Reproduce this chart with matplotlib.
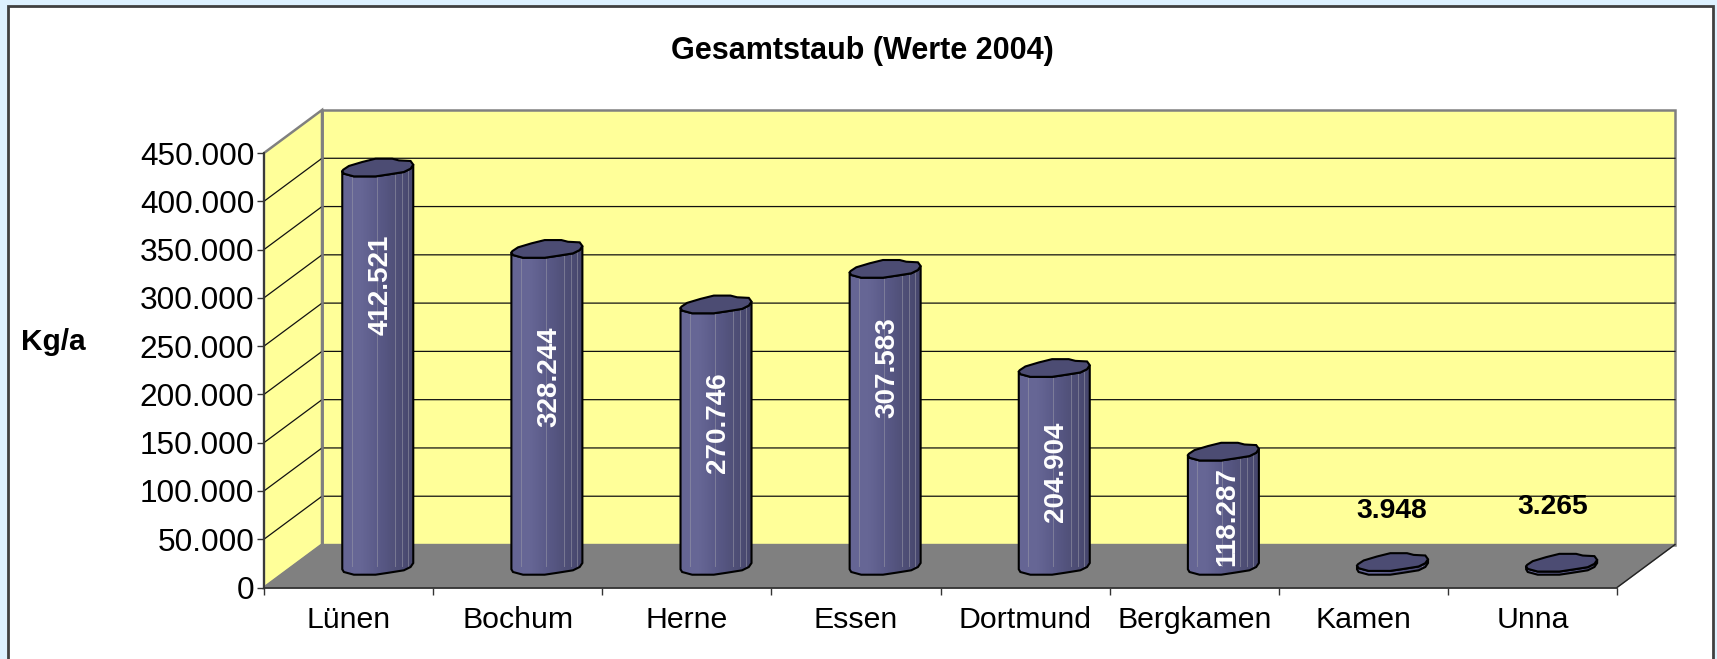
import numpy as np
import matplotlib
matplotlib.use("Agg")
import matplotlib.pyplot as plt
from matplotlib.patches import Polygon, Rectangle
from matplotlib.colors import LinearSegmentedColormap
from matplotlib.ticker import FuncFormatter

plt.rcParams['font.family'] = ['Liberation Sans', 'DejaVu Sans']

# ---- data ----
cities = ["Lünen", "Bochum", "Herne", "Essen", "Dortmund", "Bergkamen", "Kamen", "Unna"]
values = [412521, 328244, 270746, 307583, 204904, 118287, 3948, 3265]
value_labels = ["412.521", "328.244", "270.746", "307.583", "204.904", "118.287", "3.948", "3.265"]
y_ticks = [0, 50000, 100000, 150000, 200000, 250000, 300000, 350000, 400000, 450000]

# ---- layout (not data) ----
W, H = 1717, 659
FRONT_L, FRONT_R, FRONT_T, FRONT_B = 264, 1617, 153, 587.5
DEPTH_X, DEPTH_Y = 58, 43
YMAX = 450000
label_pixel_rows = [285, 377, 423, 368, 472, 517, 511, 507]
label_pixel_shift = [3, 3, 2, 2, 2, 4, -1, -9]
footprint = [(-35.3, 3.3), (-33.7, 6), (-23.7, 8.7), (-2, 8.7), (11.3, 6.7), (26.3, 4.3),
             (33, 1), (35.7, -3), (33, -6.7), (21.3, -7.3), (14.7, -9), (-2, -9),
             (-15.3, -5.7), (-28.7, -1.7), (-34.3, 2)]
front_edge = footprint[:8]
strip_lines = [-26, -1, 17, 24, 30]

fig = plt.figure(figsize=(W / 100, H / 100), dpi=100, facecolor="#DDF1FF")
fig.patches.append(Rectangle((7.5 / W, -0.05), (1713 - 7.5) / W, 1.05 - 6 / H,
                             transform=fig.transFigure, facecolor="white",
                             edgecolor="#404040", linewidth=2.0, zorder=-10))
ax = fig.add_axes([FRONT_L / W, 1 - FRONT_B / H, (FRONT_R - FRONT_L) / W, (FRONT_B - FRONT_T) / H])
ax.patch.set_visible(False)
ax.set_xlim(0, len(cities))
ax.set_ylim(0, YMAX)

ux = (FRONT_R - FRONT_L) / len(cities)      # pixels per category
uy = YMAX / (FRONT_B - FRONT_T)             # value per pixel
px = lambda p: p / ux
py = lambda p: p * uy
bx, by = px(DEPTH_X), py(DEPTH_Y)


def poly(pts, **kw):
    p = Polygon(pts, closed=True, clip_on=False, **kw)
    ax.add_patch(p)
    return p


# walls and floor
n = len(cities)
poly([(bx, by), (n + bx, by), (n + bx, YMAX + by), (bx, YMAX + by)], facecolor="#FFFF99",
     edgecolor="#808080", linewidth=1.8, zorder=1)
poly([(0, 0), (bx, by), (bx, YMAX + by), (0, YMAX)], facecolor="#FFFF99",
     edgecolor="#808080", linewidth=1.8, zorder=1)
poly([(0, 0), (n, 0), (n + bx, by), (bx, by)], facecolor="#808080", edgecolor="#808080",
     linewidth=1.0, zorder=2)

for t in y_ticks[1:-1]:
    ax.plot([0, bx, n + bx], [t, t + by, t + by], color="#111111", lw=0.9, zorder=1.5, clip_on=False)
ax.plot([bx, bx], [by, YMAX + by], color="#808080", lw=1.8, zorder=1.6, clip_on=False)
ax.plot([n, n + bx], [0, by], color="#222222", lw=1.0, zorder=2.2, clip_on=False)

# cylinders
cmap = LinearSegmentedColormap.from_list("cyl", ["#656594", "#676796", "#5A5A88", "#505078", "#46466C"])
grad = np.linspace(0, 1, 64).reshape(1, -1)
for i, (v, txt, row, shift) in enumerate(zip(values, value_labels, label_pixel_rows, label_pixel_shift)):
    cx = i + 0.5 + bx / 2
    base = by / 2
    top = base + v
    fx = [cx + px(a) for a, b in footprint]
    fb = [-py(b) for a, b in footprint]
    ex = [cx + px(a) for a, b in front_edge]
    eb = [-py(b) for a, b in front_edge]
    body = [(x, top + b) for x, b in zip(ex, eb)] + [(x, base + b) for x, b in zip(ex[::-1], eb[::-1])]
    clip = poly(body, facecolor="none", edgecolor="none", zorder=3)
    im = ax.imshow(grad, cmap=cmap, aspect="auto", zorder=3.1,
                   extent=(cx - px(36), cx + px(36), base - py(12), top + py(12)))
    im.set_clip_path(clip)
    for s in strip_lines:
        line, = ax.plot([cx + px(s)] * 2, [base, top], color="#9A9AA8", lw=0.7, alpha=0.55, zorder=3.2)
        line.set_clip_path(clip)
    poly(body, facecolor="none", edgecolor="black", linewidth=1.5, zorder=3.3)
    poly(list(zip(fx, [top + b for b in fb])), facecolor="#4C4C73", edgecolor="black",
         linewidth=1.5, zorder=3.4)
    ly = (FRONT_B - row) * uy
    if v > 50000:
        ax.text(cx + px(shift), ly, txt, color="white", fontweight="bold", fontsize=20, rotation=90,
                ha="center", va="center", zorder=5)
    else:
        ax.text(cx + px(shift), ly, txt, color="black", fontweight="bold", fontsize=20.3,
                ha="center", va="center", zorder=5)

ax.set_xlim(0, n)
ax.set_ylim(0, YMAX)

# axes
for s in ("top", "right"):
    ax.spines[s].set_visible(False)
for s in ("left", "bottom"):
    ax.spines[s].set_color("#333333")
    ax.spines[s].set_linewidth(1.3)
    ax.spines[s].set_zorder(2.5)
ax.set_yticks(y_ticks)
ax.yaxis.set_major_formatter(FuncFormatter(lambda v, _: f"{int(v):,}".replace(",", ".")))
ax.tick_params(axis="y", labelsize=22.8, length=5, width=1, color="#333333", pad=2)
ax.set_xticks(range(n + 1))
ax.set_xticklabels([])
ax.set_xticks(np.arange(n) + 0.5, minor=True)
ax.set_xticklabels(cities, minor=True)
ax.tick_params(axis="x", which="major", length=5, width=1, color="#333333")
ax.tick_params(axis="x", which="minor", length=0, labelsize=21.8, pad=13.5)

fig.text(862 / W, 1 - 51 / H, "Gesamtstaub (Werte 2004)", fontweight="bold", fontsize=22,
         ha="center", va="center")
fig.text(53 / W, 1 - 342 / H, "Kg/a", fontweight="bold", fontsize=21.5, ha="center", va="center")

fig.savefig("out.png", dpi=100, facecolor=fig.get_facecolor())
